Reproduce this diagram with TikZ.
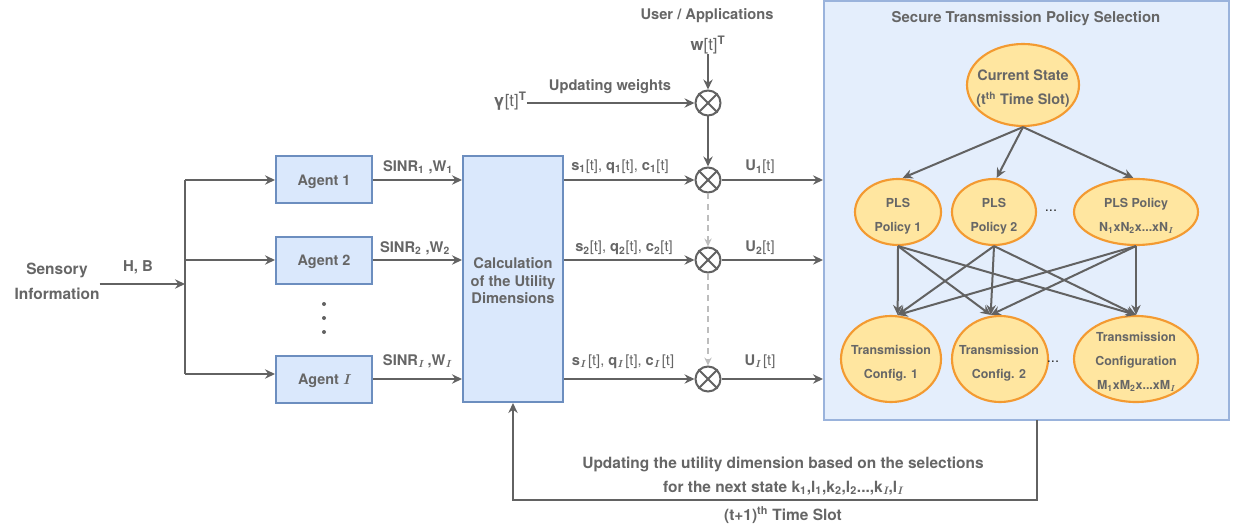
\documentclass[tikz,border=0pt]{standalone}
\usepackage{fontspec}
\setmainfont{TeX Gyre Heros}
\newfontfamily\lmr{Latin Modern Roman}
\usetikzlibrary{arrows.meta,shapes.geometric}
\definecolor{txtc}{HTML}{666666}
\definecolor{lnc}{HTML}{626262}
\definecolor{boxfill}{HTML}{DAE8FC}
\definecolor{boxdraw}{HTML}{6C8EBF}
\definecolor{panelfill}{HTML}{E4EEFC}
\definecolor{paneldraw}{HTML}{9AB3DC}
\definecolor{ellfill}{HTML}{FFE6A0}
\definecolor{elldraw}{HTML}{F39A31}
\definecolor{dashc}{HTML}{BDBDBD}
\newcommand{\fsz}[2]{\fontsize{#1}{#2}\selectfont}
\newcommand{\sbs}[1]{\textsubscript{#1}}
\newcommand{\Ii}{{\lmr\itshape\bfseries I}}
\begin{document}
\begin{tikzpicture}[x=0.75pt,y=-0.75pt,
  txt/.style={text=txtc, font=\bfseries\fsz{11}{13}, inner sep=0pt},
  lbl/.style={text=txtc, font=\fsz{11}{13}, inner sep=0pt},
  arr/.style={draw=lnc, line width=1.5pt, -{Stealth[length=7.5pt,width=7pt,inset=2.5pt]}},
  plain/.style={draw=lnc, line width=1.5pt},
  agentbox/.style={draw=boxdraw, fill=boxfill, line width=1.5pt, minimum width=72pt, minimum height=35.25pt, inner sep=0pt},
  agenttxt/.style={txt, font=\bfseries\fsz{10.8}{13}},
  ell/.style={ellipse, draw=elldraw, fill=ellfill, line width=1.6pt, inner sep=0pt},
  elltxt/.style={text=txtc, align=center, inner sep=0pt, font=\bfseries\fsz{9.3}{18}},
  mult/.style={circle, draw=lnc, line width=1.5pt, minimum size=18.75pt, inner sep=0pt},
  dsh/.style={draw=dashc, line width=1.2pt, dash pattern=on 4.5pt off 3.5pt, -{Stealth[length=6pt,width=5.5pt,inset=2pt]}}
]
\useasboundingbox (0,0) rectangle (1237,527);
\fill[white] (0,0) rectangle (1237,527);

% panel
\node[draw=paneldraw, fill=panelfill, line width=1.5pt, minimum width=303.75pt, minimum height=314.25pt, inner sep=0pt] (panel) at (1026.5,210.5) {};
\node[txt, font=\bfseries\fsz{11.2}{13}] (title) at (1026,19) {Secure Transmission Policy Selection};

% left part
\node[txt, align=center, font=\bfseries\fsz{11.6}{18.75}] (si) at (57,281) {Sensory\\Information};
\node[txt, font=\bfseries\fsz{11.2}{13}] (hb) at (138,267) {H, B};
\coordinate (jn) at (185,284);
\coordinate (j1) at (185,180);
\coordinate (j2) at (185,260);
\coordinate (jI) at (185,374);

\node[agentbox] (a1) at (324,180) {};
\node[agentbox] (a2) at (324,260) {};
\node[agentbox] (aI) at (324,379) {};
\node[agenttxt] (a1t) at (324,181.5) {Agent 1};
\node[agenttxt] (a2t) at (324,261.5) {Agent 2};
\node[agenttxt] (aIt) at (324,380.5) {Agent \Ii};
\foreach \yy in {304,318,332}
  \fill[lnc] (324,\yy) circle (2);

\node[draw=boxdraw, fill=boxfill, line width=1.5pt, minimum width=75pt, minimum height=184.5pt, inner sep=0pt] (calc) at (513,279) {};
\node[txt, align=center, font=\bfseries\fsz{11}{13.1}] (calct) at (513,281) {Calculation\\of the Utility\\Dimensions};

\draw[arr] (si.east |- jn) -- (jn);
\draw[plain] (j1) -- (jI);
\draw[arr] (j1) -- (a1.west);
\draw[arr] (j2) -- (a2.west);
\draw[arr] (jI) -- (aI.west |- jI);

\draw[arr] (a1.east) -- (calc.west |- a1.east);
\draw[arr] (a2.east) -- (calc.west |- a2.east);
\draw[arr] (aI.east) -- (calc.west |- aI.east);

\node[txt] (l1) at (418,167) {SINR\sbs{1} ,W\sbs{1}};
\node[txt] (l2) at (415,248) {SINR\sbs{2} ,W\sbs{2}};
\node[txt] (lI) at (417,361) {SINR\sbs{\Ii} ,W\sbs{\Ii}};

% multipliers
\node[mult] (m0) at (708,103) {};
\node[mult] (m1) at (708,180) {};
\node[mult] (m2) at (708,260) {};
\node[mult] (mI) at (708,379) {};
\foreach \m in {m0,m1,m2,mI}{
  \draw[draw=lnc, line width=1.5pt] (\m.45) -- (\m.225);
  \draw[draw=lnc, line width=1.5pt] (\m.135) -- (\m.315);
}

\node[txt, font=\bfseries\fsz{11}{13}] (ua) at (707,16) {User / Applications};
\node[lbl, font=\fsz{12.5}{14}] (w) at (708,45) {\textbf{w}[t]\textsuperscript{\textbf{T}}};
\node[lbl, font=\fsz{12.5}{14}] (gam) at (510,101) {\textbf{γ}[t]\textsuperscript{\textbf{T}}};
\node[txt] (uw) at (610,87) {Updating weights};

\draw[arr] (w.south) -- (m0.north);
\draw[arr] (gam.east |- m0) -- (m0.west);
\draw[arr] (m0.south) -- (m1.north);
\draw[dsh] (m1.south) -- (m2.north);
\draw[dsh] (m2.south) -- (mI.north);

\draw[arr] (calc.east |- m1) -- (m1.west);
\draw[arr] (calc.east |- m2) -- (m2.west);
\draw[arr] (calc.east |- mI) -- (mI.west);

\node[lbl] (s1) at (620,167) {\textbf{s\sbs{1}}[t], \textbf{q\sbs{1}}[t], \textbf{c\sbs{1}}[t]};
\node[lbl] (s2) at (624,248) {\textbf{s\sbs{2}}[t], \textbf{q\sbs{2}}[t], \textbf{c\sbs{2}}[t]};
\node[lbl] (sI) at (623,362) {\textbf{s\sbs{\Ii}}\,[t], \textbf{q\sbs{\Ii}}\,[t], \textbf{c\sbs{\Ii}}\,[t]};

\draw[arr] (m1.east) -- (panel.west |- m1);
\draw[arr] (m2.east) -- (panel.west |- m2);
\draw[arr] (mI.east) -- (panel.west |- mI);

\node[lbl] (u1) at (760,167) {\textbf{U\sbs{1}}[t]};
\node[lbl] (u2) at (760,248) {\textbf{U\sbs{2}}[t]};
\node[lbl] (uI) at (760,362) {\textbf{U\sbs{\Ii}}\,[t]};

% ellipses
\node[ell, minimum width=84pt, minimum height=61.5pt] (cur) at (1023,85) {};
\node[ell, minimum width=64.5pt, minimum height=49.5pt] (p1) at (898,212) {};
\node[ell, minimum width=63pt, minimum height=49.5pt] (p2) at (994,212) {};
\node[ell, minimum width=93pt, minimum height=49.5pt] (pN) at (1136,212) {};
\node[ell, minimum width=75pt, minimum height=64.5pt] (c1) at (891,359) {};
\node[ell, minimum width=72pt, minimum height=64.5pt] (c2) at (1000,359) {};
\node[ell, minimum width=93pt, minimum height=64.5pt] (cM) at (1136,359) {};

\node[elltxt, font=\bfseries\fsz{10.8}{18}] (curt) at (1023,89) {Current State\\(t\textsuperscript{th} Time Slot)};
\node[elltxt] (p1t) at (898,216) {PLS\\Policy 1};
\node[elltxt] (p2t) at (994,216) {PLS\\Policy 2};
\node[elltxt] (pNt) at (1136,216) {PLS Policy\\N\sbs{1}xN\sbs{2}x...xN\sbs{\Ii}};
\node[elltxt] (c1t) at (891,363) {Transmission\\Config. 1};
\node[elltxt] (c2t) at (999,363) {Transmission\\Config. 2};
\node[elltxt] (cMt) at (1136,362) {Transmission\\Configuration\\M\sbs{1}xM\sbs{2}x...xM\sbs{\Ii}};
\node[text=black!80, font=\fsz{11}{13}, inner sep=0pt] (dt1) at (1051,211) {...};
\node[text=black!80, font=\fsz{11}{13}, inner sep=0pt] (dt2) at (1053,362) {...};

\draw[arr] (cur.south) -- ([xshift=3.5pt]p1.north);
\draw[arr] (cur.south) -- ([xshift=2pt]p2.north);
\draw[arr] (cur.south) -- ([xshift=-2pt]pN.north);

\coordinate (t1) at ([xshift=5pt]c1.north);
\coordinate (t2) at ([xshift=-7pt]c2.north);
\coordinate (tM) at (cM.north);
\foreach \p in {p1,p2,pN}
  \foreach \t in {t1,t2,tM}
    \draw[arr] (\p.south) -- (\t);

% feedback
\coordinate (fb0) at (1037,420);
\coordinate (fb1) at (1037,500);
\draw[arr] (fb0) -- (fb1) -| (calc.south);
\node[txt, font=\bfseries\fsz{11.6}{13}] (fbt1) at (783,464) {Updating the utility dimension based on the selections};
\node[txt, font=\bfseries\fsz{11.6}{13}] (fbt2) at (783,488) {for the next state k\sbs{1},l\sbs{1},k\sbs{2},l\sbs{2}...,k\sbs{\Ii},l\sbs{\Ii}};
\node[txt, font=\bfseries\fsz{11.6}{13}] (fbt3) at (783,515) {(t+1)\textsuperscript{th} Time Slot};
\end{tikzpicture}
\end{document}
